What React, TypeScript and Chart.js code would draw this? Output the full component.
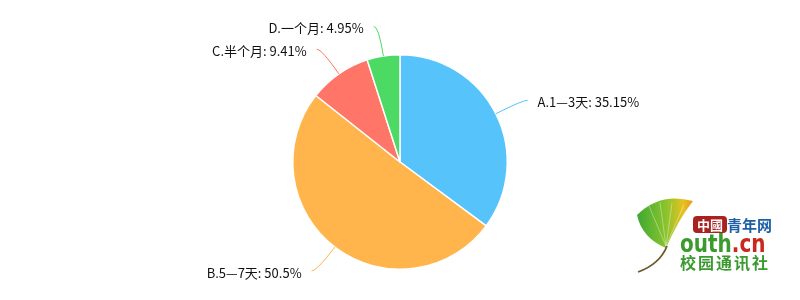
import React, { useEffect, useRef } from "react";
import { Chart, registerables } from "chart.js";

Chart.register(...registerables);

const categories = ["A.1—3天", "B.5—7天", "C.半个月", "D.一个月"];
const values = [35.15, 50.5, 9.41, 4.95];
const colors = ["#57C3FB", "#FFB54C", "#FF7567", "#4CD964"];

const FONT = '"Noto Sans CJK SC", "Noto Sans", sans-serif';

const labelPlugin = {
  id: "pieLabels",
  afterDatasetsDraw(chart: any) {
    const ctx = chart.ctx;
    const meta = chart.getDatasetMeta(0);
    const ds = chart.data.datasets[0];
    meta.data.forEach((arc: any, i: number) => {
      const { x, y, outerRadius, startAngle, endAngle } = arc.getProps(
        ["x", "y", "outerRadius", "startAngle", "endAngle"],
        true
      );
      const mid = (startAngle + endAngle) / 2;
      const cx = Math.cos(mid);
      const cy = Math.sin(mid);
      const p0x = x + outerRadius * cx;
      const p0y = y + outerRadius * cy;
      const L1 = 30;
      const L2 = 5;
      const p1x = x + (outerRadius + L1) * cx;
      const p1y = y + (outerRadius + L1) * cy;
      const right = cx >= 0;
      const p2x = p1x + (right ? L2 : -L2);
      const p2y = p1y;
      ctx.save();
      ctx.strokeStyle = colors[i];
      ctx.lineWidth = 1;
      ctx.beginPath();
      ctx.moveTo(p0x, p0y);
      ctx.quadraticCurveTo(p1x, p1y, p2x, p2y);
      ctx.stroke();
      ctx.fillStyle = "#111";
      ctx.font = `13px ${FONT}`;
      ctx.textBaseline = "middle";
      ctx.textAlign = right ? "left" : "right";
      const txt = `${chart.data.labels[i]}: ${ds.data[i]}%`;
      ctx.fillText(txt, p2x + (right ? 10 : -10), p2y + 2);
      ctx.restore();
    });
  },
};

const logoPlugin = {
  id: "logo",
  afterDraw(chart: any) {
    const ctx = chart.ctx;
    ctx.save();
    // leaf
    const grad = ctx.createLinearGradient(637, 0, 696, 0);
    grad.addColorStop(0, "#3DA833");
    grad.addColorStop(0.5, "#8CC42C");
    grad.addColorStop(0.78, "#E6C21F");
    grad.addColorStop(1, "#EE8A1C");
    ctx.fillStyle = grad;
    ctx.beginPath();
    ctx.moveTo(666, 248);
    ctx.quadraticCurveTo(642, 238, 637, 215);
    ctx.quadraticCurveTo(660, 192, 693, 201);
    ctx.quadraticCurveTo(678, 220, 666, 248);
    ctx.closePath();
    ctx.fill();
    ctx.strokeStyle = "rgba(255,255,255,0.45)";
    ctx.lineWidth = 0.8;
    for (const tx of [648, 660, 672, 684]) {
      ctx.beginPath();
      ctx.moveTo(666, 246);
      ctx.lineTo(tx, 202 + Math.abs(tx - 662) * 0.12);
      ctx.stroke();
    }
    // stem
    ctx.strokeStyle = "#6b5a2a";
    ctx.lineWidth = 1.8;
    ctx.beginPath();
    ctx.moveTo(667, 246);
    ctx.quadraticCurveTo(660, 264, 638, 272);
    ctx.stroke();
    // 中國 box
    ctx.fillStyle = "#A8231F";
    ctx.beginPath();
    ctx.roundRect(693, 216, 34, 17, 4);
    ctx.fill();
    ctx.fillStyle = "#fff";
    ctx.font = `bold 13px ${FONT}`;
    ctx.textBaseline = "middle";
    ctx.textAlign = "left";
    ctx.fillText("中國", 697, 225);
    ctx.fillStyle = "#1F5FA6";
    ctx.font = `bold 15px "Noto Sans CJK SC", serif`;
    ctx.fillText("青年网", 727, 225);
    // outh.cn
    ctx.save();
    ctx.translate(680, 245);
    ctx.scale(0.8, 1);
    ctx.font = `bold 25px "DejaVu Sans", sans-serif`;
    ctx.fillStyle = "#3A9A2E";
    ctx.fillText("outh", 0, 0);
    const w = ctx.measureText("outh").width;
    ctx.fillStyle = "#C8281E";
    ctx.fillText(".cn", w, 0);
    ctx.restore();
    // 校园通讯社
    ctx.fillStyle = "#3A9A2E";
    ctx.font = `bold 16px "Noto Sans CJK SC", serif`;
    const chars = "校园通讯社";
    for (let k = 0; k < chars.length; k++) {
      ctx.fillText(chars[k], 680 + k * 18, 263);
    }
    ctx.restore();
  },
};

export default function App() {
  const ref = useRef<HTMLCanvasElement>(null);
  useEffect(() => {
    document.body.style.margin = "0";
    const chart = new Chart(ref.current!, {
      type: "pie",
      data: {
        labels: categories,
        datasets: [
          {
            data: values,
            backgroundColor: colors,
            borderColor: "#ffffff",
            borderWidth: 1.5,
          },
        ],
      },
      options: {
        animation: false,
        responsive: false,
        layout: { padding: { top: 54, bottom: 30, left: 0, right: 0 } },
        plugins: {
          legend: { display: false },
          tooltip: { enabled: false },
        },
      },
      plugins: [labelPlugin, logoPlugin],
    });
    return () => chart.destroy();
  }, []);
  return (
    <div style={{ width: 800, height: 300, background: "#fff" }}>
      <canvas ref={ref} width={800} height={300} />
    </div>
  );
}
